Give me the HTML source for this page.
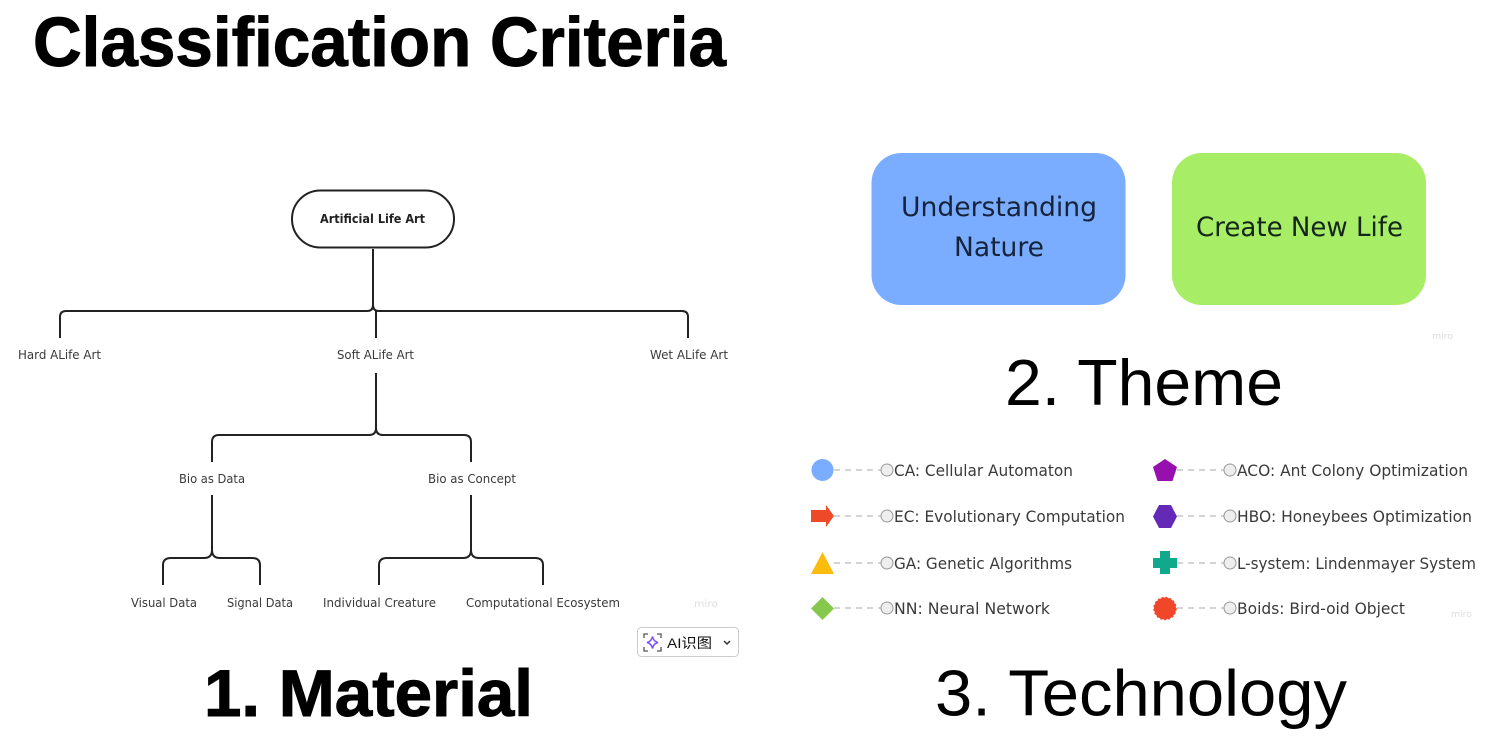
<!DOCTYPE html>
<html><head><meta charset="utf-8"><style>
html,body{margin:0;padding:0;background:#fff;width:1489px;height:740px;overflow:hidden}
svg{display:block}
text{font-family:"DejaVu Sans","Noto Sans CJK SC",sans-serif;fill:#222}
.h{font-family:"Liberation Sans",sans-serif;fill:#000;font-size:70px}
.b{stroke:#000;stroke-width:1}
.r{font-size:65px}
.l{font-size:12px;fill:#3a3a3a}
.t{font-size:16px;fill:#3a3a3a}
.c{stroke:#222;stroke-width:2;fill:none}
.d{stroke:#aaa;stroke-width:1;stroke-dasharray:6 5;fill:none}
.o{fill:#eee;stroke:#999;stroke-width:1}
</style></head><body>
<svg width="1489" height="740" viewBox="0 0 1489 740" xmlns="http://www.w3.org/2000/svg">
<text class="h b" x="33" y="66" font-weight="700" textLength="693" lengthAdjust="spacingAndGlyphs">Classification Criteria</text>
<text class="h b" style="font-size:66px" x="204" y="716" font-weight="700" textLength="329" lengthAdjust="spacingAndGlyphs">1. Material</text>
<text class="h r" x="1005" y="405" textLength="278" lengthAdjust="spacingAndGlyphs">2. Theme</text>
<text class="h r" x="935" y="715.500" textLength="412" lengthAdjust="spacingAndGlyphs">3. Technology</text>

<rect x="292" y="190.500" width="162" height="57" rx="28.500" fill="#fff" stroke="#222" stroke-width="2"/>
<text x="320" y="223" font-size="12.500" font-weight="700" fill="#222" textLength="105" lengthAdjust="spacingAndGlyphs">Artificial Life Art</text>
<path class="c" d="M373 249V305Q373 311 367 311H66Q60 311 60 317V338"/>
<path class="c" d="M373 305Q373 311 379 311H682Q688 311 688 317V338"/>
<path class="c" d="M376 311V338"/>
<path class="c" d="M376 373V428Q376 435 369 435H219Q212 435 212 442V462"/>
<path class="c" d="M376 428Q376 435 383 435H464Q471 435 471 442V462"/>
<path class="c" d="M212 495V550Q212 558 204 558H171Q163 558 163 565V585"/>
<path class="c" d="M212 550Q212 558 220 558H252Q260 558 260 565V585"/>
<path class="c" d="M471 495V550Q471 558 463 558H387Q379 558 379 565V585"/>
<path class="c" d="M471 550Q471 558 479 558H535Q543 558 543 565V585"/>
<text class="l" x="18" y="359" textLength="83" lengthAdjust="spacingAndGlyphs">Hard ALife Art</text>
<text class="l" x="337" y="359" textLength="77" lengthAdjust="spacingAndGlyphs">Soft ALife Art</text>
<text class="l" x="650" y="359" textLength="78" lengthAdjust="spacingAndGlyphs">Wet ALife Art</text>
<text class="l" x="179" y="483" textLength="66" lengthAdjust="spacingAndGlyphs">Bio as Data</text>
<text class="l" x="428" y="483" textLength="88" lengthAdjust="spacingAndGlyphs">Bio as Concept</text>
<text class="l" x="131" y="607" textLength="66" lengthAdjust="spacingAndGlyphs">Visual Data</text>
<text class="l" x="227" y="607" textLength="66" lengthAdjust="spacingAndGlyphs">Signal Data</text>
<text class="l" x="323" y="607" textLength="113" lengthAdjust="spacingAndGlyphs">Individual Creature</text>
<text class="l" x="466" y="607" textLength="154" lengthAdjust="spacingAndGlyphs">Computational Ecosystem</text>
<text x="694" y="607" font-size="10" style="fill:#ddd" textLength="24" lengthAdjust="spacingAndGlyphs">miro</text>

<rect x="637.500" y="627.500" width="101" height="29" rx="4" fill="#fff" stroke="#ccc"/>
<path d="M644 638v-4h4M657 634h4v4M661 647v4h-4M648 651h-4v-4" fill="none" stroke="#555" stroke-width="1.300"/>
<path d="M652.500 636.500Q653.500 641.500 658 642.500Q653.500 643.500 652.500 648.500Q651.500 643.500 647 642.500Q651.500 641.500 652.500 636.500Z" fill="none" stroke="#7c4dff" stroke-width="1.500"/>
<text x="667" y="648" font-size="14" style="font-family:'Liberation Sans','Noto Sans CJK SC',sans-serif;fill:#111" textLength="45" lengthAdjust="spacingAndGlyphs">AI识图</text>
<path d="M724 641l3 3 3-3" fill="none" stroke="#333" stroke-width="1.500"/>

<rect x="871.500" y="153" width="254" height="152" rx="30" fill="#7aadff"/>
<rect x="1172" y="153" width="254" height="152" rx="30" fill="#a8ed66"/>
<text x="901" y="216" font-size="27" style="fill:#16233a" textLength="196" lengthAdjust="spacingAndGlyphs">Understanding</text>
<text x="954" y="256" font-size="27" style="fill:#16233a" textLength="90" lengthAdjust="spacingAndGlyphs">Nature</text>
<text x="1196" y="236" font-size="27" style="fill:#14261a" textLength="207" lengthAdjust="spacingAndGlyphs">Create New Life</text>
<text x="1432" y="339" font-size="9" style="fill:#ddd" textLength="21" lengthAdjust="spacingAndGlyphs">miro</text>

<path class="d" d="M834 470H881M834 516H881M834 563H881M834 608H881M1177 470H1224M1177 516H1224M1177 563H1224M1177 608H1224"/>
<g class="o">
<circle cx="887" cy="470" r="6"/><circle cx="887" cy="516" r="6"/><circle cx="887" cy="563" r="6"/><circle cx="887" cy="608" r="6"/>
<circle cx="1230" cy="470" r="6"/><circle cx="1230" cy="516" r="6"/><circle cx="1230" cy="563" r="6"/><circle cx="1230" cy="608" r="6"/>
</g>
<circle cx="822.500" cy="470" r="11" fill="#7aadff"/>
<path d="M811 510H826V505L834 516L826 527V522H811Z" fill="#ee4a2a"/>
<path d="M822.500 552L834 574H811Z" fill="#fbbc0e"/>
<path d="M822.500 597L834 608.500L822.500 620L811 608.500Z" fill="#85c84c"/>
<path d="M1165 459L1177 467L1172.500 481H1157.500L1153 467Z" fill="#9510ac"/>
<path d="M1159 505H1171L1177 516.500L1171 528H1159L1153 516.500Z" fill="#6529b8"/>
<path d="M1160 551H1170V558H1177V568H1170V574H1160V568H1153V558H1160Z" fill="#12a88c"/>
<circle cx="1165" cy="608.500" r="11" fill="#f0472a" stroke="#f0472a" stroke-width="1.500" stroke-dasharray="2 2"/>

<text class="t" x="894" y="476" textLength="179" lengthAdjust="spacingAndGlyphs">CA: Cellular Automaton</text>
<text class="t" x="894" y="522" textLength="231" lengthAdjust="spacingAndGlyphs">EC: Evolutionary Computation</text>
<text class="t" x="894" y="569" textLength="178" lengthAdjust="spacingAndGlyphs">GA: Genetic Algorithms</text>
<text class="t" x="894" y="614" textLength="156" lengthAdjust="spacingAndGlyphs">NN: Neural Network</text>
<text class="t" x="1237" y="476" textLength="231" lengthAdjust="spacingAndGlyphs">ACO: Ant Colony Optimization</text>
<text class="t" x="1237" y="522" textLength="235" lengthAdjust="spacingAndGlyphs">HBO: Honeybees Optimization</text>
<text class="t" x="1237" y="569" textLength="239" lengthAdjust="spacingAndGlyphs">L-system: Lindenmayer System</text>
<text class="t" x="1237" y="614" textLength="168" lengthAdjust="spacingAndGlyphs">Boids: Bird-oid Object</text>
<text x="1451" y="617" font-size="9" style="fill:#ddd" textLength="21" lengthAdjust="spacingAndGlyphs">miro</text>
</svg>
</body></html>
